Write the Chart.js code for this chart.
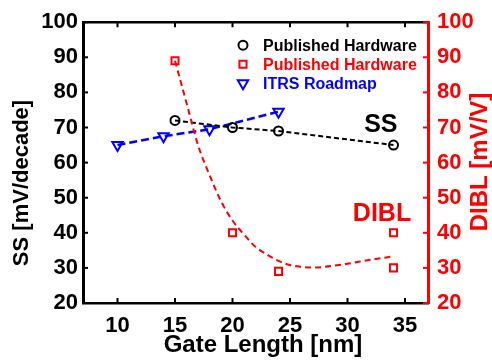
<!DOCTYPE html>
<html>
<head>
<meta charset="utf-8">
<title>SS and DIBL vs Gate Length</title>
<script src="https://cdn.jsdelivr.net/npm/chart.js@4.4.1/dist/chart.umd.min.js"></script>
<style>
  html, body { margin: 0; padding: 0; background: #fff; }
  #wrap { width: 492px; height: 364px; }
</style>
</head>
<body>
<div id="wrap"><canvas id="ssChart" width="492" height="364"></canvas></div>
<script>
// Subthreshold swing, published hardware
const hwLength = [15, 20, 24, 34];
const hwSS = [72, 70, 69, 65];

// ITRS roadmap targets
const itrsLength = [10, 14, 18, 24];
const itrsSS = [65, 67.5, 69.5, 74.5];

// DIBL, published hardware
const diblLength = [15, 20, 24, 34, 34];
const diblValues = [89, 40, 29, 40, 30];

// trend curve for the DIBL data
const diblTrendLength = [15, 16, 17, 18, 19, 20, 21, 22, 23, 24, 25, 26, 27, 28, 30, 32, 34];
const diblTrend = [89, 77, 65, 56.5, 49, 43.5, 39.5, 36, 33.8, 32, 30.8, 30.3, 30.1, 30.3, 31.2, 32.3, 33.3];

const xTicks = [10, 15, 20, 25, 30, 35];
const yTicks = [20, 30, 40, 50, 60, 70, 80, 90, 100];

const RED = '#ff0000';
const BLUE = '#0000ff';
const BLACK = '#000000';

Chart.defaults.font.family = '"Liberation Sans", Arial, sans-serif';
Chart.defaults.font.weight = 'bold';

function pairs(xs, ys) {
    return xs.map((x, i) => ({ x: x, y: ys[i] }));
}

function setTicks(values) {
    return function (scale) {
        scale.ticks = values.map(v => ({ value: v }));
    };
}

// inward tick marks on all four sides
const innerTicks = {
    id: 'innerTicks',
    afterDatasetsDraw(chart) {
        const { ctx, chartArea: a, scales } = chart;
        const len = 5;
        ctx.save();
        ctx.lineWidth = 2;
        ctx.strokeStyle = BLACK;
        xTicks.forEach(v => {
            const px = scales.x.getPixelForValue(v);
            ctx.beginPath();
            ctx.moveTo(px, a.bottom);
            ctx.lineTo(px, a.bottom - len);
            ctx.moveTo(px, a.top);
            ctx.lineTo(px, a.top + len);
            ctx.stroke();
        });
        yTicks.forEach(v => {
            const py = scales.y.getPixelForValue(v);
            ctx.strokeStyle = BLACK;
            ctx.beginPath();
            ctx.moveTo(a.left, py);
            ctx.lineTo(a.left + len, py);
            ctx.stroke();
            const py2 = scales.y2.getPixelForValue(v);
            ctx.strokeStyle = RED;
            ctx.beginPath();
            ctx.moveTo(a.right, py2);
            ctx.lineTo(a.right - len, py2);
            ctx.stroke();
        });
        ctx.restore();
    }
};

// axis titles, in-plot labels and the legend box
const decorations = {
    id: 'decorations',
    afterDraw(chart) {
        const { ctx, chartArea: a, scales } = chart;
        ctx.save();
        ctx.textBaseline = 'middle';
        ctx.textAlign = 'center';

        ctx.fillStyle = BLACK;
        ctx.font = 'bold 24px "Liberation Sans", Arial, sans-serif';
        ctx.fillText('Gate Length [nm]', 263, 345);

        ctx.save();
        ctx.translate(22, 183);
        ctx.rotate(-Math.PI / 2);
        ctx.font = 'bold 22px "Liberation Sans", Arial, sans-serif';
        ctx.fillText('SS [mV/decade]', 0, 0);
        ctx.restore();

        ctx.save();
        ctx.translate(480, 162);
        ctx.rotate(-Math.PI / 2);
        ctx.fillStyle = RED;
        ctx.font = 'bold 24px "Liberation Sans", Arial, sans-serif';
        ctx.fillText('DIBL [mV/V]', 0, 0);
        ctx.restore();

        ctx.font = 'bold 25px "Liberation Sans", Arial, sans-serif';
        ctx.fillStyle = BLACK;
        ctx.fillText('SS', scales.x.getPixelForValue(32.9), scales.y.getPixelForValue(70.6));
        ctx.fillStyle = RED;
        ctx.fillText('DIBL', scales.x.getPixelForValue(33), scales.y2.getPixelForValue(45.4));

        const legend = [
            { text: 'Published Hardware', color: BLACK, style: 'circle', radius: 4.5, rot: 0 },
            { text: 'Published Hardware', color: RED, style: 'rect', radius: 5, rot: 0 },
            { text: 'ITRS Roadmap', color: BLUE, style: 'triangle', radius: 6, rot: 180 }
        ];
        ctx.textAlign = 'left';
        ctx.font = 'bold 16px "Liberation Sans", Arial, sans-serif';
        legend.forEach((item, i) => {
            const y = a.top + 23 + i * 19;
            ctx.strokeStyle = item.color;
            ctx.lineWidth = 2;
            ctx.fillStyle = 'rgba(0,0,0,0)';
            Chart.helpers.drawPoint(ctx, {
                pointStyle: item.style,
                radius: item.radius,
                rotation: item.rot,
                borderWidth: 2
            }, 243, y);
            ctx.fillStyle = item.color;
            ctx.fillText(item.text, 263, y + 1);
        });
        ctx.restore();
    }
};

const ctx = document.getElementById('ssChart').getContext('2d');
new Chart(ctx, {
    type: 'line',
    data: {
        datasets: [
            {
                label: 'DIBL trend',
                data: pairs(diblTrendLength, diblTrend),
                yAxisID: 'y2',
                borderColor: RED,
                borderWidth: 2,
                borderDash: [6, 4],
                pointRadius: 0,
                cubicInterpolationMode: 'monotone',
                fill: false
            },
            {
                label: 'Published Hardware',
                data: pairs(hwLength, hwSS),
                yAxisID: 'y',
                borderColor: BLACK,
                borderWidth: 2,
                borderDash: [5, 3],
                pointStyle: 'circle',
                pointRadius: 4.5,
                pointBorderWidth: 2,
                pointBorderColor: BLACK,
                pointBackgroundColor: 'rgba(0,0,0,0)',
                tension: 0
            },
            {
                label: 'ITRS Roadmap',
                data: pairs(itrsLength, itrsSS),
                yAxisID: 'y',
                borderColor: BLUE,
                borderWidth: 2.5,
                borderDash: [8, 4],
                pointStyle: 'triangle',
                pointRotation: 180,
                pointRadius: 6,
                pointBorderWidth: 2,
                pointBorderColor: BLUE,
                pointBackgroundColor: 'rgba(0,0,0,0)',
                tension: 0
            },
            {
                label: 'Published Hardware',
                data: pairs(diblLength, diblValues),
                yAxisID: 'y2',
                showLine: false,
                pointStyle: 'rect',
                pointRadius: 5,
                pointBorderWidth: 2,
                pointBorderColor: RED,
                pointBackgroundColor: 'rgba(0,0,0,0)'
            }
        ]
    },
    options: {
        responsive: false,
        animation: false,
        layout: { padding: 0 },
        plugins: {
            legend: { display: false },
            tooltip: { enabled: false }
        },
        scales: {
            x: {
                type: 'linear',
                position: 'bottom',
                min: 7,
                max: 37,
                afterBuildTicks: setTicks(xTicks),
                afterFit(scale) { scale.height = 61; },
                grid: { display: false, drawTicks: false },
                border: { display: true, color: BLACK, width: 2.5 },
                ticks: { color: BLACK, padding: 10, font: { size: 22, weight: 'bold' } }
            },
            xTop: {
                type: 'linear',
                position: 'top',
                min: 7,
                max: 37,
                afterBuildTicks: setTicks(xTicks),
                afterFit(scale) { scale.height = 17; },
                grid: { display: false, drawTicks: false },
                border: { display: true, color: BLACK, width: 2.5 },
                ticks: { display: false }
            },
            y: {
                position: 'left',
                min: 20,
                max: 100,
                afterBuildTicks: setTicks(yTicks),
                afterFit(scale) { scale.width = 83; },
                grid: { display: false, drawTicks: false },
                border: { display: true, color: BLACK, width: 3 },
                ticks: { color: BLACK, padding: 5, font: { size: 22, weight: 'bold' } }
            },
            y2: {
                position: 'right',
                min: 20,
                max: 100,
                afterBuildTicks: setTicks(yTicks),
                afterFit(scale) { scale.width = 64; },
                grid: { display: false, drawTicks: false },
                border: { display: true, color: RED, width: 3 },
                ticks: { color: RED, padding: 9, font: { size: 22, weight: 'bold' } }
            }
        }
    },
    plugins: [innerTicks, decorations]
});
</script>
</body>
</html>
